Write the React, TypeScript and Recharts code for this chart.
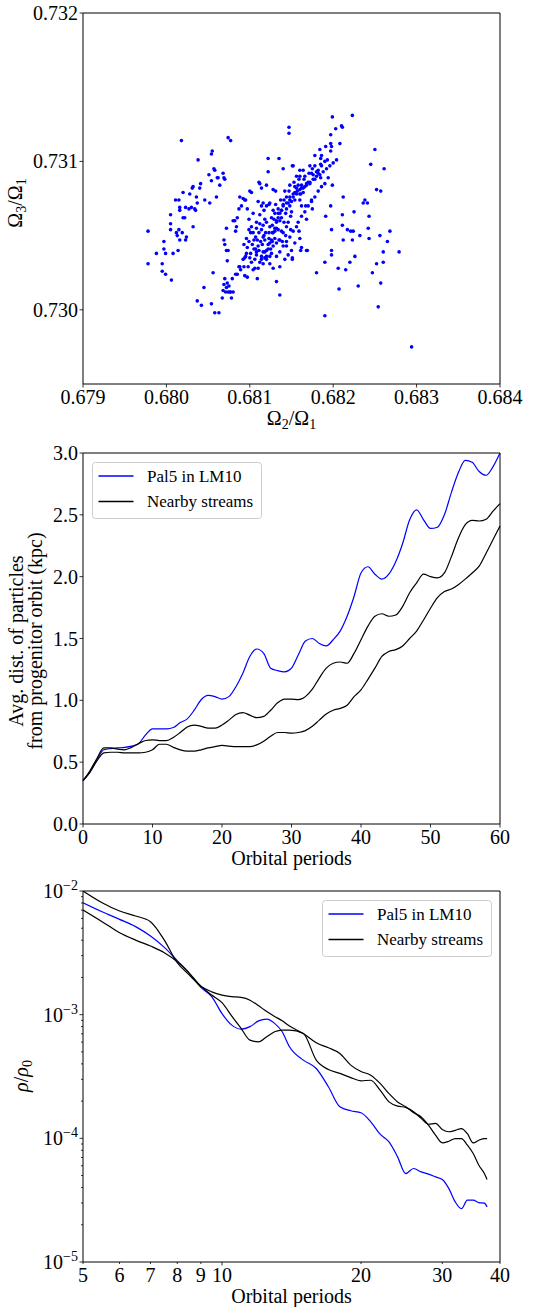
import type { ReactNode } from "react";
import {
  Label,
  Line,
  LineChart,
  ReferenceArea,
  Scatter,
  ScatterChart,
  XAxis,
  YAxis,
} from "recharts";

const SERIF = "'Liberation Serif', 'Times New Roman', serif";
const BLUE = "#0000ff";
const INK = "#000000";

// top panel: frequency ratios of the stream particles, [Omega2/Omega1, Omega3/Omega1]
const freqRatios: [number, number][] = [
  [0.67978, 0.73053], [0.67978, 0.73031], [0.67988, 0.73038], [0.67995, 0.73031],
  [0.67995, 0.73026], [0.67997, 0.73046], [0.67997, 0.73041], [0.67999, 0.73038],
  [0.67999, 0.73024], [0.68006, 0.7302], [0.68005, 0.73064], [0.68005, 0.73058],
  [0.68005, 0.73054], [0.68008, 0.73038], [0.68011, 0.73074], [0.68012, 0.73052],
  [0.68013, 0.7305], [0.68014, 0.7304], [0.68015, 0.73074], [0.68015, 0.73054],
  [0.68016, 0.73069], [0.68016, 0.73067], [0.68016, 0.73047], [0.68018, 0.73114],
  [0.68019, 0.73052], [0.6802, 0.73062], [0.6802, 0.73079], [0.68022, 0.73062],
  [0.68023, 0.73069], [0.68023, 0.73047], [0.68024, 0.73049], [0.68027, 0.73068],
  [0.68028, 0.73078], [0.6803, 0.73069], [0.68031, 0.73082], [0.68032, 0.73083],
  [0.68032, 0.73056], [0.68034, 0.73068], [0.68035, 0.73067], [0.68036, 0.73076],
  [0.68037, 0.73072], [0.68038, 0.73101], [0.6804, 0.73082], [0.68041, 0.73085],
  [0.68046, 0.73074], [0.68051, 0.73091], [0.68052, 0.73072], [0.68054, 0.73087],
  [0.68054, 0.73105], [0.68055, 0.73107], [0.68057, 0.73095], [0.68058, 0.73094],
  [0.6806, 0.73076], [0.68061, 0.73089], [0.68062, 0.73089], [0.68064, 0.73084],
  [0.68068, 0.73092], [0.68069, 0.73089], [0.6807, 0.73088], [0.68074, 0.73116],
  [0.68077, 0.73114],
  [0.68037, 0.73006], [0.68042, 0.73003], [0.68045, 0.73015], [0.68054, 0.73004],
  [0.68056, 0.73025], [0.68058, 0.72998], [0.68063, 0.72998], [0.68067, 0.73008],
  [0.68068, 0.73013], [0.68069, 0.73017], [0.6807, 0.73021], [0.68071, 0.73012],
  [0.68072, 0.73015], [0.68073, 0.73018], [0.68074, 0.73012], [0.68075, 0.73016],
  [0.68076, 0.73012], [0.68077, 0.73012], [0.68078, 0.73008], [0.6808, 0.73012],
  [0.68079, 0.73021], [0.68083, 0.73024], [0.68085, 0.73024], [0.68087, 0.73029],
  [0.68088, 0.73029], [0.68089, 0.73027], [0.68073, 0.73033], [0.68069, 0.73047],
  [0.6807, 0.73044], [0.68072, 0.7304], [0.68072, 0.73055], [0.68074, 0.7304],
  [0.6808, 0.7306], [0.68082, 0.7306], [0.68083, 0.73053], [0.68084, 0.73056],
  [0.68085, 0.73062], [0.68087, 0.73068], [0.68088, 0.73076], [0.6809, 0.7307],
  [0.68092, 0.73075], [0.68094, 0.73074], [0.68095, 0.73074], [0.68097, 0.73068],
  [0.68099, 0.73061], [0.681, 0.7308], [0.68102, 0.73079], [0.68108, 0.73055],
  [0.68109, 0.73021], [0.68111, 0.73086], [0.68112, 0.73085], [0.68114, 0.73082],
  [0.68116, 0.73072], [0.6812, 0.73084], [0.68122, 0.73102], [0.68122, 0.73093],
  [0.68128, 0.73081], [0.68131, 0.7308], [0.68132, 0.73019], [0.68136, 0.7301],
  [0.68135, 0.73102], [0.6814, 0.73095], [0.68147, 0.73123], [0.68147, 0.73119],
  [0.68151, 0.73035], [0.68162, 0.73042], [0.68161, 0.7304], [0.68168, 0.7304],
  [0.6818, 0.73025], [0.6819, 0.72996], [0.6819, 0.73032], [0.68191, 0.73063],
  [0.68197, 0.7307], [0.68198, 0.73054], [0.68198, 0.7304], [0.68198, 0.73037],
  [0.68199, 0.73084], [0.68206, 0.73028], [0.68207, 0.73014], [0.68211, 0.73064],
  [0.68211, 0.73057], [0.68212, 0.73076], [0.68212, 0.73047], [0.68215, 0.73027],
  [0.68217, 0.73054], [0.6822, 0.73032], [0.68221, 0.73053], [0.68223, 0.73047],
  [0.68224, 0.73053], [0.68225, 0.73066], [0.68226, 0.73036], [0.6823, 0.73016],
  [0.68232, 0.7305], [0.68236, 0.73072], [0.68238, 0.73074], [0.68241, 0.73072],
  [0.68243, 0.73063], [0.68243, 0.73048], [0.68242, 0.73055], [0.68247, 0.73025],
  [0.6825, 0.73108], [0.68252, 0.73031], [0.68252, 0.73081], [0.68254, 0.73002],
  [0.68256, 0.7305], [0.68257, 0.7308], [0.68257, 0.73018], [0.6826, 0.73032],
  [0.6826, 0.73039], [0.68261, 0.73095], [0.68265, 0.73046], [0.68268, 0.73053],
  [0.68279, 0.73039], [0.68294, 0.72975], [0.68245, 0.73098],
  [0.68199, 0.7313], [0.68223, 0.73131], [0.6821, 0.73124], [0.68211, 0.73123],
  [0.68203, 0.73122], [0.68197, 0.73118], [0.68197, 0.73112], [0.68208, 0.73112],
  [0.68198, 0.7311], [0.68191, 0.7311], [0.68184, 0.73108], [0.68197, 0.73107],
  [0.68186, 0.73104], [0.68178, 0.73104], [0.68185, 0.73102], [0.68185, 0.73098],
  [0.68178, 0.73097], [0.68175, 0.73095], [0.68182, 0.73094], [0.6818, 0.73093],
  [0.68174, 0.73092], [0.68185, 0.73089], [0.68176, 0.73091], [0.68171, 0.73092],
  [0.68164, 0.73094], [0.6816, 0.73094], [0.6816, 0.7309], [0.68165, 0.73088],
  [0.68168, 0.73085], [0.68172, 0.73085], [0.68159, 0.73088], [0.68158, 0.73084],
  [0.68162, 0.73082], [0.68152, 0.73097], [0.68153, 0.73086], [0.68148, 0.73084],
  [0.68147, 0.7308], [0.68154, 0.73079], [0.68157, 0.7308], [0.6816, 0.73078],
  [0.68161, 0.73078], [0.68164, 0.73079], [0.6815, 0.73073], [0.68154, 0.73074],
  [0.6816, 0.73074], [0.68162, 0.7307], [0.68174, 0.73074], [0.68175, 0.73068],
  [0.68168, 0.73061], [0.68159, 0.73053], [0.68167, 0.7307], [0.68144, 0.73076],
  [0.68141, 0.73074], [0.6814, 0.73071], [0.68138, 0.73067], [0.68143, 0.73065],
  [0.68148, 0.7307], [0.68149, 0.73063], [0.68146, 0.73059], [0.68141, 0.73059],
  [0.68144, 0.73056], [0.68138, 0.73053], [0.6814, 0.73052], [0.68143, 0.7305],
  [0.68139, 0.73046], [0.68136, 0.73047], [0.68134, 0.73054], [0.68132, 0.73055],
  [0.6813, 0.73065], [0.68129, 0.73061], [0.68126, 0.73062], [0.68124, 0.73072],
  [0.68123, 0.73071], [0.68128, 0.73067], [0.68131, 0.73071], [0.68134, 0.73065],
  [0.68136, 0.7306], [0.6813, 0.73053], [0.68127, 0.73052], [0.68124, 0.73056],
  [0.6812, 0.73059], [0.68118, 0.73061], [0.68116, 0.73057], [0.68114, 0.73054],
  [0.68112, 0.73058], [0.68111, 0.73052], [0.68109, 0.73047], [0.68107, 0.73049],
  [0.68105, 0.73047], [0.68103, 0.73044], [0.68101, 0.73052], [0.68099, 0.73046],
  [0.68097, 0.73042], [0.68096, 0.73038], [0.68095, 0.73036], [0.68098, 0.73029],
  [0.68102, 0.73032], [0.68104, 0.73027], [0.68106, 0.73028], [0.6811, 0.73028],
  [0.68112, 0.73032], [0.68116, 0.73031], [0.68118, 0.73035], [0.68116, 0.73039],
  [0.6812, 0.7304], [0.68122, 0.73044], [0.68125, 0.73041], [0.68128, 0.73043],
  [0.68132, 0.73045], [0.68135, 0.73047], [0.68126, 0.73038], [0.68124, 0.73036],
  [0.6812, 0.73034], [0.68114, 0.73036], [0.68108, 0.73037], [0.68111, 0.7304],
  [0.68107, 0.73041], [0.68104, 0.73052], [0.68102, 0.73056], [0.68108, 0.73059],
  [0.68112, 0.73064], [0.68117, 0.73067], [0.6812, 0.7307], [0.68114, 0.7307],
  [0.6811, 0.73073], [0.68104, 0.73065], [0.68099, 0.73054], [0.68096, 0.73048],
  [0.68093, 0.73044], [0.68094, 0.73035], [0.68092, 0.73034], [0.68093, 0.73029],
  [0.68094, 0.73023], [0.68097, 0.73022], [0.68101, 0.73038], [0.68106, 0.73034],
  [0.68108, 0.73039], [0.68115, 0.73044], [0.68118, 0.73047], [0.68123, 0.73048],
  [0.68127, 0.73046], [0.6813, 0.73048], [0.68123, 0.73052], [0.68119, 0.73052],
  [0.68132, 0.7306], [0.68138, 0.73062], [0.68144, 0.73068], [0.68148, 0.73076],
  [0.68152, 0.73078], [0.68156, 0.73082], [0.68162, 0.73084], [0.68166, 0.73083],
  [0.6817, 0.73086], [0.68178, 0.73088], [0.68182, 0.73092], [0.68186, 0.73097],
  [0.6819, 0.731], [0.68193, 0.73101], [0.6815, 0.73066], [0.68149, 0.73054],
  [0.68144, 0.73043], [0.68151, 0.73034], [0.68169, 0.7304], [0.68151, 0.73097],
  [0.68137, 0.73074], [0.68142, 0.7308], [0.68146, 0.73072], [0.68134, 0.73068],
  [0.68127, 0.73057], [0.68117, 0.7305], [0.68105, 0.73041], [0.681, 0.73035],
  [0.68154, 0.73083], [0.68156, 0.7309], [0.68166, 0.7309], [0.68172, 0.73097],
  // dense core of the band
  [0.6811, 0.73043], [0.68113, 0.73046], [0.68116, 0.73049], [0.68118, 0.73039],
  [0.6812, 0.73036], [0.68122, 0.73041], [0.68124, 0.73045], [0.68126, 0.73047],
  [0.68128, 0.73052], [0.6813, 0.73055], [0.68132, 0.73059], [0.68134, 0.73062],
  [0.68136, 0.73065], [0.68138, 0.73067], [0.6814, 0.7307], [0.68144, 0.73072],
  [0.68148, 0.73074], [0.68152, 0.73076], [0.68156, 0.73078], [0.6816, 0.73081],
  [0.68164, 0.73082], [0.68168, 0.73084], [0.68172, 0.73086], [0.68176, 0.73088],
  [0.6818, 0.7309], [0.68184, 0.73091], [0.68188, 0.73093], [0.68192, 0.73095],
  [0.68196, 0.73097], [0.682, 0.73099], [0.68204, 0.73101], [0.68114, 0.73034],
  [0.68124, 0.73031], [0.68132, 0.73036], [0.68136, 0.73039], [0.6814, 0.73043],
  [0.68144, 0.73046], [0.68148, 0.73049], [0.68152, 0.73053], [0.68156, 0.73056],
  [0.68158, 0.73059], [0.68162, 0.73063], [0.68166, 0.73066], [0.6817, 0.7307],
  [0.68174, 0.73073], [0.68178, 0.73076], [0.68182, 0.7308], [0.68186, 0.73083],
  [0.6819, 0.73085], [0.68194, 0.73089], [0.68128, 0.73028], [0.68136, 0.73029],
  [0.68142, 0.73034], [0.68146, 0.73037], [0.6815, 0.7304], [0.68154, 0.73045],
  [0.6816, 0.73048],
];
const ratio21Ticks = [0.679, 0.68, 0.681, 0.682, 0.683, 0.684];
const ratio31Ticks = [0.73, 0.731, 0.732];

// middle panel: mean distance from the progenitor orbit
const periods = [
  0, 1, 2, 3, 4, 5, 6, 7, 8, 9, 10, 11, 12, 13, 14, 15, 16, 17, 18, 19, 20,
  21, 22, 23, 24, 25, 26, 27, 28, 29, 30, 31, 32, 33, 34, 35, 36, 37, 38, 39, 40,
  41, 42, 43, 44, 45, 46, 47, 48, 49, 50, 51, 52, 53, 54, 55, 56, 57, 58, 59, 60,
];
const pal5Dist = [
  0.35, 0.42, 0.52, 0.6, 0.61, 0.615, 0.62, 0.63, 0.65, 0.72, 0.77,
  0.77, 0.77, 0.78, 0.82, 0.85, 0.92, 1.005, 1.04, 1.03, 1.01,
  1.03, 1.11, 1.22, 1.355, 1.415, 1.38, 1.26, 1.24, 1.23, 1.26,
  1.37, 1.48, 1.5, 1.46, 1.44, 1.49, 1.56, 1.68, 1.84, 2.03,
  2.08, 2.02, 1.98, 2.02, 2.12, 2.27, 2.46, 2.54, 2.46, 2.39,
  2.4, 2.5, 2.68, 2.84, 2.94, 2.925, 2.85, 2.82, 2.89, 3.0,
];
const nearbyDistA = [
  0.35, 0.43, 0.53, 0.615, 0.615, 0.605, 0.6, 0.62, 0.65, 0.675, 0.68,
  0.675, 0.675, 0.7, 0.74, 0.785, 0.8, 0.79, 0.775, 0.775, 0.8,
  0.84, 0.885, 0.9, 0.88, 0.86, 0.87, 0.92, 0.98, 1.01, 1.01,
  1.005, 1.03, 1.09, 1.18, 1.26, 1.3, 1.31, 1.3, 1.38, 1.49,
  1.6, 1.68, 1.7, 1.68, 1.69, 1.76, 1.87, 1.95, 2.02, 2.0,
  1.99, 2.03, 2.16, 2.31, 2.42, 2.455, 2.45, 2.465, 2.53, 2.59,
];
const nearbyDistB = [
  0.35, 0.42, 0.51, 0.575, 0.58, 0.58, 0.575, 0.575, 0.575, 0.58, 0.6,
  0.645, 0.645, 0.62, 0.6, 0.59, 0.59, 0.6, 0.615, 0.625, 0.635,
  0.63, 0.625, 0.625, 0.625, 0.64, 0.67, 0.71, 0.74, 0.74, 0.735,
  0.74, 0.755, 0.79, 0.84, 0.89, 0.92, 0.935, 0.96, 1.03, 1.085,
  1.17, 1.26, 1.355, 1.395, 1.41, 1.44, 1.5, 1.56, 1.65, 1.745,
  1.83, 1.88, 1.9, 1.935, 1.98, 2.03, 2.085, 2.19, 2.3, 2.41,
];
const periodTicks = [0, 10, 20, 30, 40, 50, 60];
const distTicks = [0, 0.5, 1, 1.5, 2, 2.5, 3];

// bottom panel: density relative to the initial density (log-log)
const densityPeriods = [
  5, 5.5, 6, 6.5, 7, 7.5, 8, 8.5, 9, 9.5, 10, 10.5, 11, 11.5, 12, 12.5, 13, 13.5, 14,
  15, 16, 17, 18, 19, 20, 21, 22, 23, 24, 25, 26, 27, 28, 29, 30, 31, 32, 33, 34, 35,
  36, 37, 37.5,
];
const pal5Density = [
  8.04e-3, 6.8e-3, 5.9e-3, 5.15e-3, 4.32e-3, 3.5e-3, 2.73e-3, 2.16e-3, 1.66e-3, 1.4e-3,
  1.02e-3, 8.23e-4, 7.64e-4, 8.0e-4, 8.9e-4, 9.2e-4, 8.5e-4, 7.27e-4, 5.5e-4,
  4.29e-4, 3.67e-4, 2.61e-4, 1.8e-4, 1.67e-4, 1.61e-4, 1.36e-4, 1.08e-4, 9.36e-5, 7.08e-5,
  5.19e-5, 5.7e-5, 5.35e-5, 5.13e-5, 4.88e-5, 4.64e-5, 3.92e-5, 3.06e-5, 2.7e-5, 3.16e-5,
  3.16e-5, 3.02e-5, 2.99e-5, 2.79e-5,
];
const nearbyDensityA = [
  1.0e-2, 8.04e-3, 6.89e-3, 6.28e-3, 5.65e-3, 4.01e-3, 2.63e-3, 2.09e-3, 1.7e-3, 1.53e-3,
  1.44e-3, 1.4e-3, 1.38e-3, 1.31e-3, 1.18e-3, 1.06e-3, 9.68e-4, 8.92e-4, 8.08e-4,
  7.05e-4, 5.92e-4, 5.4e-4, 4.86e-4, 3.91e-4, 3.47e-4, 3.24e-4, 2.78e-4, 2.3e-4, 1.97e-4,
  1.8e-4, 1.61e-4, 1.49e-4, 1.28e-4, 1.06e-4, 9.19e-5, 9.48e-5, 9.96e-5, 9.96e-5, 8.8e-5,
  7.53e-5, 6.06e-5, 5.19e-5, 4.64e-5,
];
const nearbyDensityB = [
  7.02e-3, 5.65e-3, 4.6e-3, 4.01e-3, 3.59e-3, 3.17e-3, 2.68e-3, 2.16e-3, 1.7e-3, 1.44e-3,
  1.25e-3, 9.74e-4, 7.74e-4, 6.22e-4, 6.03e-4, 6.63e-4, 7.27e-4, 7.5e-4, 7.5e-4,
  7.05e-4, 4.29e-4, 3.6e-4, 3.35e-4, 3.1e-4, 2.92e-4, 2.95e-4, 2.45e-4, 1.97e-4, 1.82e-4,
  1.78e-4, 1.64e-4, 1.45e-4, 1.3e-4, 1.32e-4, 1.18e-4, 1.13e-4, 1.16e-4, 1.2e-4, 1.09e-4,
  9.19e-5, 9.66e-5, 9.96e-5, 9.96e-5,
];
const densityPeriodTicks = [5, 6, 7, 8, 9, 10, 20, 30, 40];
const densityTicks = [
  1e-5, 2e-5, 3e-5, 4e-5, 5e-5, 6e-5, 7e-5, 8e-5, 9e-5,
  1e-4, 2e-4, 3e-4, 4e-4, 5e-4, 6e-4, 7e-4, 8e-4, 9e-4,
  1e-3, 2e-3, 3e-3, 4e-3, 5e-3, 6e-3, 7e-3, 8e-3, 9e-3, 1e-2,
];

const seriesNames = ["Pal5 in LM10", "Nearby streams"];

type TickProps = { x?: number; y?: number; payload?: { value: number } };

function BottomTick({ x = 0, y = 0, text, len = 3.5 }: TickProps & { text: string; len?: number }) {
  return (
    <g>
      <line x1={x} x2={x} y1={y} y2={y + len} stroke={INK} strokeWidth={0.8} />
      <text x={x} y={y + 20} textAnchor="middle" fontFamily={SERIF} fontSize={20} fill={INK}>
        {text}
      </text>
    </g>
  );
}

function LeftTick({ x = 0, y = 0, len = 3.5, children }: TickProps & { len?: number; children?: ReactNode }) {
  return (
    <g>
      <line x1={x - len} x2={x} y1={y} y2={y} stroke={INK} strokeWidth={0.8} />
      {children ? (
        <text x={x - 5} y={y + 7} textAnchor="end" fontFamily={SERIF} fontSize={20} fill={INK}>
          {children}
        </text>
      ) : null}
    </g>
  );
}

function DecadeTick(props: TickProps) {
  const v = props.payload?.value ?? 1;
  const exp = Math.log10(v);
  const isDecade = Math.abs(exp - Math.round(exp)) < 1e-6;
  if (!isDecade) {
    return <LeftTick {...props} len={2} />;
  }
  return (
    <LeftTick {...props}>
      10
      <tspan fontSize={14} dy={-8}>
        {`\u2212${Math.abs(Math.round(exp))}`}
      </tspan>
    </LeftTick>
  );
}

function XTitle({ children }: { children?: ReactNode }) {
  return (
    <text x={291.5} y={425} textAnchor="middle" fontFamily={SERIF} fontSize={20} fill={INK}>
      {children}
    </text>
  );
}

function YTitle({ lines, cx, cy }: { lines: ReactNode[]; cx: number[]; cy: number }) {
  return (
    <g>
      {lines.map((line, i) => (
        <text
          key={i}
          x={cx[i]}
          y={cy}
          transform={`rotate(-90, ${cx[i]}, ${cy})`}
          textAnchor="middle"
          fontFamily={SERIF}
          fontSize={20}
          fill={INK}
        >
          {line}
        </text>
      ))}
    </g>
  );
}

function OmegaRatio({ num }: { num: number }) {
  return (
    <>
      Ω<tspan fontSize={14} dy={4}>{num}</tspan>
      <tspan dy={-4}>/Ω</tspan>
      <tspan fontSize={14} dy={4}>1</tspan>
    </>
  );
}

function SeriesLegend({ left, top }: { left: number; top: number }) {
  return (
    <svg style={{ position: "absolute", left, top }} width={171} height={58}>
      <rect x={0.5} y={0.5} width={169} height={56} rx={3} fill="#ffffff" fillOpacity={0.8} stroke="#cccccc" />
      <line x1={6.5} x2={41.5} y1={14} y2={14} stroke={BLUE} strokeWidth={1.5} />
      <line x1={6.5} x2={41.5} y1={39.5} y2={39.5} stroke={INK} strokeWidth={1.5} />
      <text x={55} y={19.5} fontFamily={SERIF} fontSize={17} fill={INK}>
        {seriesNames[0]}
      </text>
      <text x={55} y={45} fontFamily={SERIF} fontSize={17} fill={INK}>
        {seriesNames[1]}
      </text>
    </svg>
  );
}

const frameProps = { fill: "none", stroke: INK, strokeWidth: 1, ifOverflow: "visible" as const };
const axisCommon = { axisLine: false, tickLine: false, tickSize: 0, tickMargin: 0, interval: 0 as const };

export default function App() {
  const ratioPoints = freqRatios.map(([x, y]) => ({ x, y }));
  const distRows = periods.map((t, i) => ({
    t,
    pal5: pal5Dist[i],
    nearA: nearbyDistA[i],
    nearB: nearbyDistB[i],
  }));
  const densityRows = densityPeriods.map((t, i) => ({
    t,
    pal5: pal5Density[i],
    nearA: nearbyDensityA[i],
    nearB: nearbyDensityB[i],
  }));

  return (
    <div style={{ position: "absolute", left: 0, top: 0, width: 550, height: 1307, background: "#fff" }}>
      <div style={{ position: "absolute", left: 0, top: 0 }}>
        <ScatterChart width={550} height={440} margin={{ top: 13, right: 50, bottom: 0, left: 0 }}>
          <XAxis
            {...axisCommon}
            type="number"
            dataKey="x"
            domain={[0.679, 0.684]}
            ticks={ratio21Ticks}
            height={56}
            allowDataOverflow
            tick={(p: TickProps) => <BottomTick {...p} text={(p.payload?.value ?? 0).toFixed(3)} />}
            label={<Label content={() => <XTitle><OmegaRatio num={2} /></XTitle>} />}
          />
          <YAxis
            {...axisCommon}
            type="number"
            dataKey="y"
            domain={[0.7295, 0.732]}
            ticks={ratio31Ticks}
            width={83}
            allowDataOverflow
            tick={(p: TickProps) => <LeftTick {...p}>{(p.payload?.value ?? 0).toFixed(3)}</LeftTick>}
            label={<Label content={() => <YTitle lines={[<OmegaRatio key="o" num={3} />]} cx={[22]} cy={203} />} />}
          />
          <ReferenceArea x1={0.679} x2={0.684} y1={0.7295} y2={0.732} {...frameProps} />
          <Scatter
            data={ratioPoints}
            isAnimationActive={false}
            shape={(p: { cx?: number; cy?: number }) => <circle cx={p.cx} cy={p.cy} r={1.8} fill={BLUE} />}
          />
        </ScatterChart>
      </div>

      <div style={{ position: "absolute", left: 0, top: 440 }}>
        <LineChart width={550} height={440} data={distRows} margin={{ top: 13, right: 50, bottom: 0, left: 0 }}>
          <XAxis
            {...axisCommon}
            type="number"
            dataKey="t"
            domain={[0, 60]}
            ticks={periodTicks}
            height={56}
            tick={(p: TickProps) => <BottomTick {...p} text={String(p.payload?.value ?? 0)} />}
            label={<Label content={() => <XTitle>Orbital periods</XTitle>} />}
          />
          <YAxis
            {...axisCommon}
            type="number"
            domain={[0, 3]}
            ticks={distTicks}
            width={83}
            tick={(p: TickProps) => <LeftTick {...p}>{(p.payload?.value ?? 0).toFixed(1)}</LeftTick>}
            label={
              <Label
                content={() => (
                  <YTitle
                    lines={["Avg. dist. of particles", "from progenitor orbit (kpc)"]}
                    cx={[23, 42]}
                    cy={201}
                  />
                )}
              />
            }
          />
          <ReferenceArea x1={0} x2={60} y1={0} y2={3} {...frameProps} />
          <Line dataKey="pal5" type="monotone" stroke={BLUE} strokeWidth={1.2} dot={false} activeDot={false} isAnimationActive={false} />
          <Line dataKey="nearA" type="monotone" stroke={INK} strokeWidth={1.2} dot={false} activeDot={false} isAnimationActive={false} />
          <Line dataKey="nearB" type="monotone" stroke={INK} strokeWidth={1.2} dot={false} activeDot={false} isAnimationActive={false} />
        </LineChart>
      </div>
      <SeriesLegend left={92} top={462} />

      <div style={{ position: "absolute", left: 0, top: 878 }}>
        <LineChart width={550} height={429} data={densityRows} margin={{ top: 13, right: 50, bottom: 0, left: 0 }}>
          <XAxis
            {...axisCommon}
            type="number"
            dataKey="t"
            scale="log"
            domain={[5, 40]}
            ticks={densityPeriodTicks}
            height={45}
            allowDataOverflow
            tick={(p: TickProps) => (
              <BottomTick {...p} len={p.payload?.value === 10 ? 3.5 : 2} text={String(p.payload?.value ?? 0)} />
            )}
            label={<Label content={() => <XTitle>Orbital periods</XTitle>} />}
          />
          <YAxis
            {...axisCommon}
            type="number"
            scale="log"
            domain={[1e-5, 1e-2]}
            ticks={densityTicks}
            width={83}
            allowDataOverflow
            tick={(p: TickProps) => <DecadeTick {...p} />}
            label={
              <Label
                content={() => (
                  <YTitle
                    lines={[
                      <>
                        <tspan fontStyle="italic">ρ</tspan>/<tspan fontStyle="italic">ρ</tspan>
                        <tspan fontSize={14} dy={4}>0</tspan>
                      </>,
                    ]}
                    cx={[28]}
                    cy={198}
                  />
                )}
              />
            }
          />
          <ReferenceArea x1={5} x2={40} y1={1e-5} y2={1e-2} {...frameProps} />
          <Line dataKey="pal5" type="monotone" stroke={BLUE} strokeWidth={1.2} dot={false} activeDot={false} isAnimationActive={false} />
          <Line dataKey="nearA" type="monotone" stroke={INK} strokeWidth={1.2} dot={false} activeDot={false} isAnimationActive={false} />
          <Line dataKey="nearB" type="monotone" stroke={INK} strokeWidth={1.2} dot={false} activeDot={false} isAnimationActive={false} />
        </LineChart>
      </div>
      <SeriesLegend left={322} top={900} />
    </div>
  );
}
